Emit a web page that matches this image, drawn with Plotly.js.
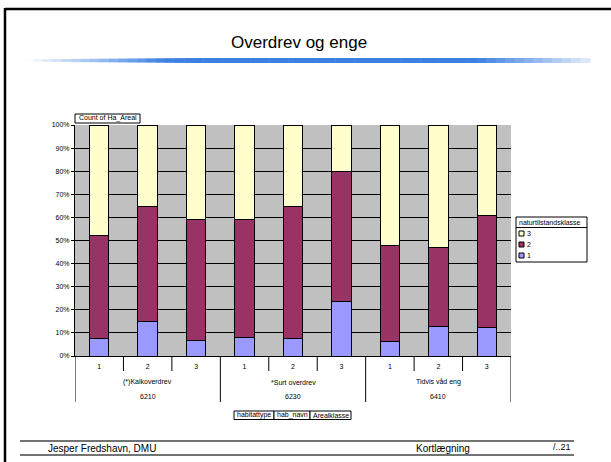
<!DOCTYPE html>
<html>
<head>
<meta charset="utf-8">
<script src="https://cdn.plot.ly/plotly-3.0.1.min.js"></script>
<style>html,body{margin:0;padding:0;background:#fff;}#chart{width:611px;height:462px;}</style>
</head>
<body>
<div id="chart"></div>
<script>
// ---- data ----
var habitattype = ['6210', '6230', '6410'];
var hab_navn = ['(*)Kalkoverdrev', '*Surt overdrev', 'Tidvis våd eng'];
var arealklasse = ['1', '2', '3'];
var klasse1 = [7.4, 14.8, 6.6, 7.9, 7.4, 23.4, 6.4, 12.9, 12.4];
var klasse2 = [44.8, 50.0, 52.3, 51.4, 57.2, 56.4, 41.3, 34.0, 48.6];
var klasse3 = [47.8, 35.2, 41.1, 40.7, 35.4, 20.2, 52.3, 53.1, 39.0];
var seriesNames = ['1', '2', '3'];
var seriesColors = ['#9999FF', '#993366', '#FFFFCC'];

var FONT = 'Arial, "Liberation Sans", sans-serif';
// plot area in pixels
var L = 75, R = 511, T = 125, B = 356;
function px(x) { return (x - L) / (R - L); }
function py(y) { return (B - y) / (B - T); }

var xs = [], tickText = [];
for (var g = 0; g < habitattype.length; g++) {
  for (var a = 0; a < arealklasse.length; a++) {
    xs.push(g * arealklasse.length + a);
    tickText.push(arealklasse[a]);
  }
}

var vals = [klasse1, klasse2, klasse3];
var traces = vals.map(function (v, i) {
  return {
    type: 'bar', x: xs, y: v, name: seriesNames[i], width: 0.4,
    marker: { color: seriesColors[i], line: { color: '#000', width: 1 } },
    showlegend: false, hoverinfo: 'skip'
  };
});

var shapes = [], annotations = [];
// slide frame
shapes.push({ type: 'line', xref: 'paper', yref: 'paper', x0: px(5), x1: px(611), y0: py(9), y1: py(9), line: { color: '#000', width: 2.5 } });
shapes.push({ type: 'line', xref: 'paper', yref: 'paper', x0: px(5), x1: px(5), y0: py(8), y1: py(462), line: { color: '#000', width: 2.5 } });
// gradient line under title
var N = 60, gx0 = 24, gx1 = 590;
for (var i = 0; i < N; i++) {
  var t = (i + 0.5) / N;
  var k = Math.min(1, t / 0.25);
  if (t > 0.8) k = Math.max(0.15, 1 - (t - 0.8) / 0.2 * 0.85);
  var r = Math.round(255 + (62 - 255) * k), gg = Math.round(255 + (128 - 255) * k), b = Math.round(255 + (225 - 255) * k);
  var half = 1.2 + 1.3 * Math.min(1, t / 0.3);
  shapes.push({ type: 'rect', xref: 'paper', yref: 'paper', x0: px(gx0 + (gx1 - gx0) * i / N), x1: px(gx0 + (gx1 - gx0) * (i + 1) / N + 0.5),
    y0: py(60.5 - half), y1: py(60.5 + half), fillcolor: 'rgb(' + r + ',' + gg + ',' + b + ')', line: { width: 0 } });
}
// footer lines
shapes.push({ type: 'line', xref: 'paper', yref: 'paper', x0: px(20), x1: px(574), y0: py(441), y1: py(441), line: { color: '#444', width: 1.3 } });
shapes.push({ type: 'line', xref: 'paper', yref: 'paper', x0: px(20), x1: px(574), y0: py(455), y1: py(455), line: { color: '#444', width: 1.3 } });

// category dividers
var nA = arealklasse.length;
for (var j = 0; j <= xs.length; j++) {
  var xv = j - 0.5;
  var isGroup = (j % nA === 0);
  shapes.push({ type: 'line', xref: 'x', yref: 'paper', x0: xv, x1: xv, y0: 0, y1: isGroup ? py(402) : py(371), line: { color: '#000', width: 1 } });
}
// group labels
for (var g2 = 0; g2 < habitattype.length; g2++) {
  var cx = g2 * nA + (nA - 1) / 2;
  annotations.push({ xref: 'x', yref: 'paper', x: cx, y: py(382), text: hab_navn[g2], showarrow: false, font: { family: FONT, size: 7, color: '#000' }, yanchor: 'middle' });
  annotations.push({ xref: 'x', yref: 'paper', x: cx, y: py(396.5), text: habitattype[g2], showarrow: false, font: { family: FONT, size: 7, color: '#000' }, yanchor: 'middle' });
}

// title & footer text
annotations.push({ xref: 'paper', yref: 'paper', x: px(299), y: py(42), text: 'Overdrev og enge', showarrow: false, font: { family: FONT, size: 17, color: '#000' }, xanchor: 'center', yanchor: 'middle' });
annotations.push({ xref: 'paper', yref: 'paper', x: px(46), y: py(448), text: 'Jesper Fredshavn, DMU', showarrow: false, font: { family: FONT, size: 10, color: '#000' }, xanchor: 'left', yanchor: 'middle' });
annotations.push({ xref: 'paper', yref: 'paper', x: px(414), y: py(448), text: 'Kortlægning', showarrow: false, font: { family: FONT, size: 10, color: '#000' }, xanchor: 'left', yanchor: 'middle' });
annotations.push({ xref: 'paper', yref: 'paper', x: px(573), y: py(447), text: '/..21', showarrow: false, font: { family: FONT, size: 9, color: '#000' }, xanchor: 'right', yanchor: 'middle' });

// field buttons
function button(text, x0, x1, y0, y1) {
  shapes.push({ type: 'rect', layer: 'below', xref: 'paper', yref: 'paper', x0: px(x0), x1: px(x1), y0: py(y0), y1: py(y1), fillcolor: '#fff', line: { color: '#000', width: 1 } });
  annotations.push({ xref: 'paper', yref: 'paper', x: px((x0 + x1) / 2), y: py((y0 + y1) / 2), text: text, showarrow: false, font: { family: FONT, size: 7, color: '#000' }, xanchor: 'center', yanchor: 'middle' });
}
button('Count of Ha_Areal', 75, 140, 114, 123);
button('habitattype', 234, 274, 411, 419.5);
button('hab_navn', 274, 310, 411, 419.5);
button('Arealklasse', 310, 351, 411, 419.5);

// legend (custom)
var legX0 = 516, legX1 = 587, legY0 = 217, legY1 = 262;
shapes.push({ type: 'rect', layer: 'below', xref: 'paper', yref: 'paper', x0: px(legX0), x1: px(legX1), y0: py(legY0), y1: py(legY1), fillcolor: '#fff', line: { color: '#000', width: 1 } });
shapes.push({ type: 'line', xref: 'paper', yref: 'paper', x0: px(legX0), x1: px(legX1), y0: py(227.5), y1: py(227.5), line: { color: '#000', width: 1 } });
annotations.push({ xref: 'paper', yref: 'paper', x: px(517), y: py(222.5), text: 'naturtilstandsklasse', showarrow: false, font: { family: FONT, size: 7, color: '#000' }, xanchor: 'left', yanchor: 'middle' });
for (var s = seriesNames.length - 1, row = 0; s >= 0; s--, row++) {
  var yc = 233.5 + row * 11;
  shapes.push({ type: 'rect', xref: 'paper', yref: 'paper', x0: px(519), x1: px(524), y0: py(yc - 2.5), y1: py(yc + 2.5), fillcolor: seriesColors[s], line: { color: '#000', width: 1 } });
  annotations.push({ xref: 'paper', yref: 'paper', x: px(525), y: py(yc), text: seriesNames[s], showarrow: false, font: { family: FONT, size: 7, color: '#000' }, xanchor: 'left', yanchor: 'middle' });
}

var layout = {
  width: 611, height: 462,
  margin: { l: L, r: 611 - R, t: T, b: 462 - B, pad: 0 },
  paper_bgcolor: '#fff', plot_bgcolor: '#C0C0C0',
  barmode: 'stack', bargap: 0.6,
  font: { family: FONT, size: 7, color: '#000' },
  showlegend: false,
  xaxis: {
    range: [-0.5, xs.length - 0.5], tickvals: xs, ticktext: tickText,
    ticks: '', showgrid: false, zeroline: false, showline: true, linecolor: '#000', linewidth: 1,
    tickfont: { family: FONT, size: 7, color: '#000' }, ticklabelstandoff: 4, fixedrange: true
  },
  yaxis: {
    range: [0, 100], dtick: 10, ticksuffix: '%', showgrid: true, gridcolor: '#000', gridwidth: 1,
    zeroline: false, showline: true, linecolor: '#000', linewidth: 1,
    ticks: 'outside', ticklen: 3, tickcolor: '#000', tickfont: { family: FONT, size: 7, color: '#000' }, fixedrange: true
  },
  shapes: shapes, annotations: annotations
};

Plotly.newPlot('chart', traces, layout, { staticPlot: true, displayModeBar: false });
</script>
</body>
</html>
